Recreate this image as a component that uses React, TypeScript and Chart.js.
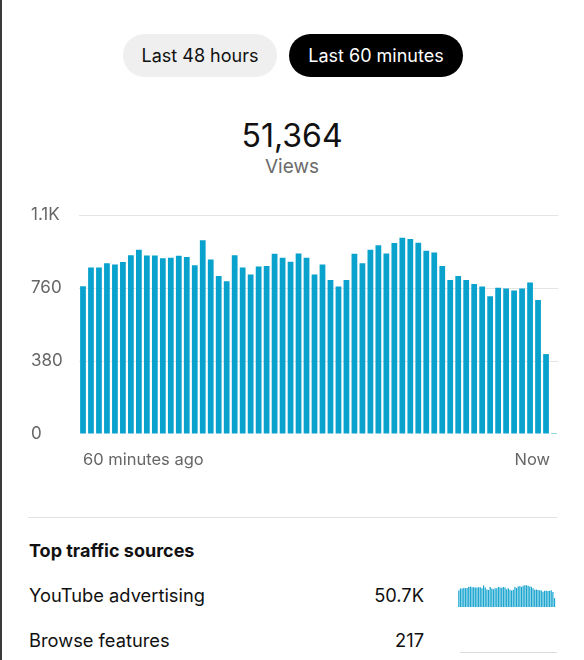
import React, { useEffect, useRef } from "react";
import { Chart, registerables } from "chart.js";

Chart.register(...registerables);

// ---- data ----
const minuteLabels: string[] = Array.from({ length: 60 }, (_, i) => `${60 - i} min ago`);
const views: number[] = [
  769, 867, 867, 889, 882, 895, 931, 959, 929, 929,
  915, 917, 928, 922, 879, 1009, 909, 823, 795, 931,
  867, 830, 872, 874, 938, 917, 896, 940, 917, 830,
  882, 802, 768, 802, 938, 889, 959, 982, 940, 994,
  1022, 1015, 996, 954, 945, 874, 802, 823, 801, 781,
  768, 717, 761, 757, 747, 757, 788, 698, 416, 5,
];
const yTickValues: number[] = [0, 380, 760, 1140];
const yTickLabels: string[] = ["0", "380", "760", "1.1K"];
const xEdgeLabels: string[] = ["60 minutes ago", "Now"];
const sourceNames: string[] = ["YouTube advertising", "Browse features"];
const sourceTotals: string[] = ["50.7K", "217"];
const totalViews = "51,364";

const FONT = "Inter, 'Noto Sans', sans-serif";
const BAR = "#08a2cd";

function MainChart() {
  const ref = useRef<HTMLCanvasElement | null>(null);
  useEffect(() => {
    if (!ref.current) return;
    const chart = new Chart(ref.current, {
      type: "bar",
      data: {
        labels: minuteLabels,
        datasets: [
          {
            data: views,
            backgroundColor: BAR,
            barPercentage: 0.72,
            categoryPercentage: 1,
          },
        ],
      },
      options: {
        animation: false,
        responsive: false,
        devicePixelRatio: 1,
        layout: { padding: { left: 11, right: 22, top: 15, bottom: 16 } },
        plugins: { legend: { display: false }, tooltip: { enabled: false } },
        scales: {
          x: { display: false },
          y: {
            min: 0,
            max: 1140,
            afterBuildTicks: (scale: any) => {
              scale.ticks = yTickValues.map((v) => ({ value: v }));
            },
            afterFit: (scale: any) => {
              scale.width = 48;
            },
            border: { display: false },
            grid: {
              drawTicks: false,
              color: (ctx: any) => (ctx.tick && ctx.tick.value === 0 ? "rgba(0,0,0,0)" : "#e4e4e4"),
              lineWidth: 1,
            },
            ticks: {
              crossAlign: "far",
              padding: 0,
              color: "#666666",
              font: { family: FONT, size: 17 },
              callback: (v: any) => {
                const i = yTickValues.indexOf(Number(v));
                return i >= 0 ? yTickLabels[i] : "";
              },
            },
          },
        },
      },
    });
    return () => chart.destroy();
  }, []);
  return (
    <canvas
      ref={ref}
      width={560}
      height={250}
      style={{ position: "absolute", left: 20, top: 200, width: 560, height: 250 }}
    />
  );
}

function Sparkline() {
  const ref = useRef<HTMLCanvasElement | null>(null);
  useEffect(() => {
    if (!ref.current) return;
    const chart = new Chart(ref.current, {
      type: "bar",
      data: {
        labels: minuteLabels,
        datasets: [
          {
            data: views,
            backgroundColor: "#1ba6d0",
            barPercentage: 0.75,
            categoryPercentage: 1,
          },
        ],
      },
      options: {
        animation: false,
        responsive: false,
        devicePixelRatio: 1,
        layout: { padding: 0 },
        plugins: { legend: { display: false }, tooltip: { enabled: false } },
        scales: {
          x: { display: false },
          y: { display: false, min: 0, max: 1030 },
        },
      },
    });
    return () => chart.destroy();
  }, []);
  return (
    <canvas
      ref={ref}
      width={99}
      height={22}
      style={{ position: "absolute", left: 458, top: 585, width: 99, height: 22 }}
    />
  );
}

function Txt(props: {
  text: string;
  x: number;
  baseline: number;
  size: number;
  color?: string;
  weight?: number;
  align?: "left" | "right" | "center";
}) {
  const { text, x, baseline, size, color = "#111", weight = 400, align = "left" } = props;
  const top = baseline - size * 0.88;
  const style: React.CSSProperties = {
    position: "absolute",
    top,
    fontFamily: FONT,
    fontSize: size,
    lineHeight: `${size}px`,
    color,
    fontWeight: weight,
    whiteSpace: "nowrap",
  };
  if (align === "left") style.left = x;
  else if (align === "right") style.right = 584 - x;
  else {
    style.left = x - 200;
    style.width = 400;
    style.textAlign = "center";
  }
  return <div style={style}>{text}</div>;
}

export default function App() {
  const pillBase: React.CSSProperties = {
    position: "absolute",
    top: 34,
    height: 43,
    borderRadius: 22,
    display: "flex",
    alignItems: "center",
    justifyContent: "center",
    fontFamily: FONT,
    fontSize: 18,
  };
  return (
    <div
      style={{
        position: "absolute",
        left: 0,
        top: 0,
        width: 584,
        height: 660,
        background: "#ffffff",
        overflow: "hidden",
      }}
    >
      <div style={{ position: "absolute", left: 0, top: 0, width: 2, height: 660, background: "#3a3a3a" }} />
      <div style={{ ...pillBase, left: 123, width: 154, background: "#efefef", color: "#111" }}>Last 48 hours</div>
      <div style={{ ...pillBase, left: 289, width: 174, background: "#000", color: "#fff" }}>Last 60 minutes</div>

      <Txt text={totalViews} x={292} baseline={148} size={32} align="center" color="#111" />
      <Txt text="Views" x={292} baseline={174} size={19} align="center" color="#6b6b6b" />

      <MainChart />
      <Txt text={xEdgeLabels[0]} x={83} baseline={466} size={16.5} color="#666" />
      <Txt text={xEdgeLabels[1]} x={550} baseline={466} size={16.5} color="#666" align="right" />

      <div style={{ position: "absolute", left: 28, top: 517, width: 529, height: 1, background: "#e2e2e2" }} />
      <Txt text="Top traffic sources" x={29} baseline={558} size={18} weight={700} color="#111" />
      <Txt text={sourceNames[0]} x={29} baseline={602} size={18.3} color="#111" />
      <Txt text={sourceTotals[0]} x={424} baseline={602} size={18.3} color="#111" align="right" />
      <Sparkline />
      <Txt text={sourceNames[1]} x={29} baseline={647} size={18.3} color="#111" />
      <Txt text={sourceTotals[1]} x={424} baseline={647} size={18.3} color="#111" align="right" />
      <div style={{ position: "absolute", left: 460, top: 652, width: 97, height: 1, background: "#dcdcdc" }} />
    </div>
  );
}
